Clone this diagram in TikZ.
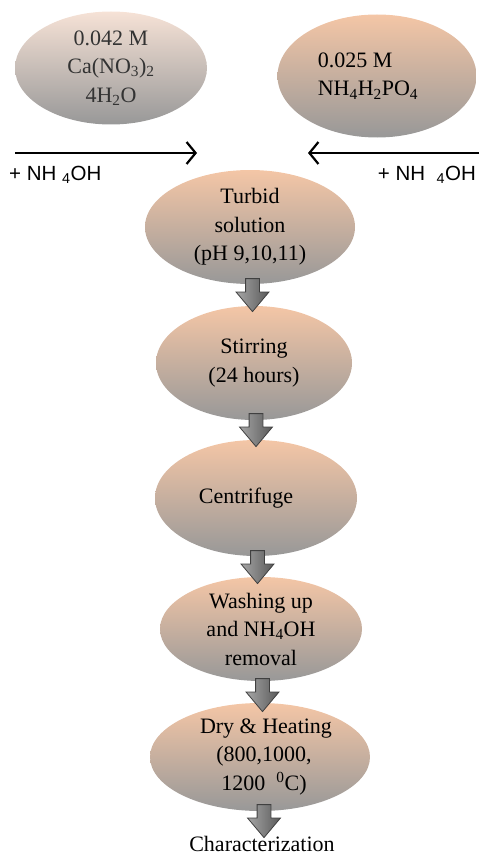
\documentclass[tikz,border=0pt]{standalone}
\usepackage{fontspec}
\setmainfont{Liberation Serif}
\newfontfamily\armfont{Liberation Sans}
\usetikzlibrary{shapes,arrows.meta,calc}
\definecolor{peach}{HTML}{F4C6A6}
\definecolor{paleveil}{HTML}{F6E2D6}
\definecolor{ashgray}{HTML}{989898}
\tikzstyle{stage} = [ellipse, inner sep=0pt, top color=peach, middle color=peach!55!ashgray, bottom color=ashgray,
  label={[align=center, font=\fontsize{22}{28.5}\selectfont]center:#1}]
\tikzstyle{down} = [single arrow, draw=black!75, line width=0.8pt, left color=black!35, right color=black!65,
  minimum height=33pt, inner xsep=0pt, inner ysep=6.5pt, single arrow head extend=9.5pt,
  single arrow tip angle=80, single arrow head indent=0pt, rotate=-90]
\tikzstyle{line} = [draw, line width=2.2pt, -{Straight Barb[length=9pt,width=22pt]}]
\tikzstyle{adder} = [font=\armfont\fontsize{20.5}{24}\selectfont, inner sep=0pt]

\begin{document}
\begin{tikzpicture}[x=1pt, y=-1pt]
 \useasboundingbox (0,0) rectangle (479,856);
 % starting solutions
 \node [stage={\color{black!80}0.042 M\\\color{black!80}Ca(NO\textsubscript{3})\textsubscript{2}\\\color{black!80}4H\textsubscript{2}O},
   top color=paleveil, minimum width=192pt, minimum height=113pt] (CA) at (111,68) {};
 \node [stage={\begin{tabular}{@{}l@{}}0.025 M\\NH\textsubscript{4}H\textsubscript{2}PO\textsubscript{4}\end{tabular}\hspace*{18pt}},
   minimum width=199pt, minimum height=123pt] (PO) at (377,76) {};
 \coordinate (la) at (15,153);
 \coordinate (lb) at (197,153);
 \coordinate (ra) at (479,153);
 \coordinate (rb) at (308,153);
 \path [line] (la) -- (lb);
 \path [line] (ra) -- (rb);
 \node [adder, anchor=west] (AL) at (9,175) {+ NH \textsubscript{4}OH};
 \node [adder, anchor=east] (AR) at (476,175) {+ NH \ \textsubscript{4}OH};
 % process chain
 \node [stage={Turbid\\solution\\(pH 9,10,11)}, minimum width=210pt, minimum height=114pt] (TU) at (250,227) {};
 \node [stage={Stirring\\(24 hours)}, minimum width=196pt, minimum height=114pt] (ST) at (254,363) {};
 \node [stage={Centrifuge\hspace*{20pt}}, minimum width=202pt, minimum height=116pt] (CE) at (256,498) {};
 \node [stage={Washing up\\and NH\textsubscript{4}OH\\removal}, minimum width=202pt, minimum height=104pt] (WA) at (261,629) {};
 \node [stage={\hspace*{12pt}Dry \& Heating\\\hspace*{8pt}(800,1000,\\\hspace*{8pt}1200 \ \textsuperscript{0}C)}, minimum width=220pt, minimum height=108pt] (DR) at (260,757) {};
 \node [font=\fontsize{22}{26}\selectfont, inner sep=0pt] (CH) at (262,843.5) {Characterization};
 \node [down] (d1) at (252.5,291) {};
 \node [down] (d2) at (256,426) {};
 \node [down] (d3) at (257.5,563) {};
 \node [down] (d4) at (262.5,691) {};
 \node [down] (d5) at (264,817) {};
\end{tikzpicture}
\end{document}
